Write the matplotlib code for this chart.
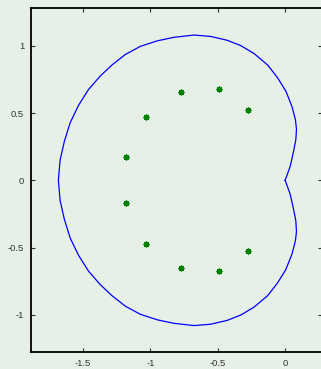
import numpy as np
import matplotlib
matplotlib.use("Agg")
import matplotlib.pyplot as plt

# Boundary curve, upper half (x, y); the lower half is its mirror image
curve_x_upper = [0.000, 0.037, 0.063, 0.079, 0.084, 0.076, 0.051, 0.005,
                 -0.057, -0.129, -0.231, -0.330, -0.429, -0.553, -0.677,
                 -0.826, -0.949, -1.074, -1.185, -1.284, -1.371, -1.458,
                 -1.533, -1.594, -1.637, -1.669, -1.682]
curve_y_upper = [0.000, 0.102, 0.218, 0.300, 0.380, 0.450, 0.547, 0.663,
                 0.763, 0.856, 0.942, 1.001, 1.040, 1.069, 1.079,
                 1.062, 1.036, 0.995, 0.935, 0.857, 0.775, 0.675,
                 0.556, 0.429, 0.292, 0.151, 0.000]

# Eigenvalue points
pts_x = [-1.183, -1.031, -0.774, -0.488, -0.272,
         -1.183, -1.031, -0.774, -0.488, -0.272]
pts_y = [0.171, 0.470, 0.654, 0.676, 0.522,
         -0.171, -0.471, -0.654, -0.674, -0.523]

xticks = [-1.5, -1, -0.5, 0]
xtick_labels = ["-1.5", "-1", "-0.5", "0"]
yticks = [-1, -0.5, 0, 0.5, 1]
ytick_labels = ["-1", "-0.5", "0", "0.5", "1"]

bg = "#e6f0e6"
plt.rcParams["font.family"] = ["Liberation Sans", "DejaVu Sans"]

fig = plt.figure(figsize=(3.21, 3.69), dpi=100, facecolor=bg)
ax = fig.add_axes([31 / 321, 17.3 / 369, 1.0 - 31 / 321 + 0.003, 343.7 / 369])
ax.set_facecolor(bg)

cx = np.array(curve_x_upper)
cy = np.array(curve_y_upper)
full_x = np.concatenate([cx, cx[::-1][1:]])
full_y = np.concatenate([cy, -cy[::-1][1:]])
ax.plot(full_x, full_y, color="#0000ff", lw=0.9, solid_joinstyle="round")

ax.plot(pts_x, pts_y, linestyle="none", marker=(8, 2, 0), markersize=4.2,
        markeredgewidth=1.0, color="#008000")

ax.set_xlim(-1.885, 0.273)
ax.set_ylim(-1.273, 1.28)
ax.set_xticks(xticks)
ax.set_xticklabels(xtick_labels)
ax.set_yticks(yticks)
ax.set_yticklabels(ytick_labels)

ax.tick_params(direction="in", length=3, width=0.8, color="#333333",
               labelsize=6.8, labelcolor="#333333", pad=5,
               top=True, right=True)
for s in ax.spines.values():
    s.set_linewidth(1.3)
    s.set_color("black")

fig.savefig("out.png", dpi=100, facecolor=bg)
